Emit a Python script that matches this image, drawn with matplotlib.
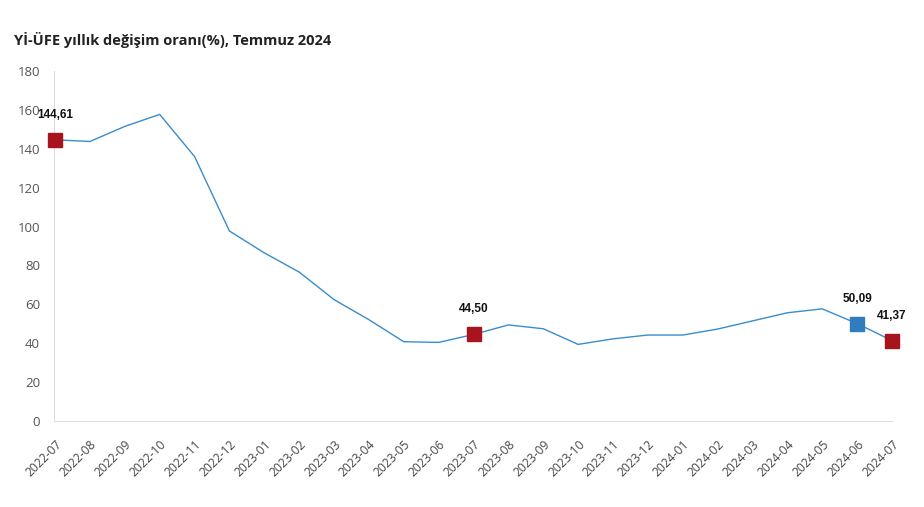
import matplotlib
matplotlib.use("Agg")
import matplotlib.pyplot as plt
import matplotlib.transforms as mtransforms

months = ["2022-07", "2022-08", "2022-09", "2022-10", "2022-11", "2022-12",
          "2023-01", "2023-02", "2023-03", "2023-04", "2023-05", "2023-06",
          "2023-07", "2023-08", "2023-09", "2023-10", "2023-11", "2023-12",
          "2024-01", "2024-02", "2024-03", "2024-04", "2024-05", "2024-06",
          "2024-07"]
values = [144.61, 143.75, 151.50, 157.69, 136.02, 97.72,
          86.46, 76.61, 62.43, 52.11, 40.76, 40.42,
          44.50, 49.41, 47.44, 39.39, 42.25, 44.22,
          44.20, 47.29, 51.47, 55.66, 57.68, 50.09,
          41.37]
red_idx = [0, 12, 24]
blue_idx = [23]
yticks = [0, 20, 40, 60, 80, 100, 120, 140, 160, 180]
title = "Yİ-ÜFE yıllık değişim oranı(%), Temmuz 2024"

line_color = "#3a8ccb"
red = "#a8141e"
blue = "#2f7dbf"

fig = plt.figure(figsize=(9.24, 5.07), dpi=100)
ax = fig.add_axes([54/924, 1-421/507, (892-54)/924, 350/507])
x = list(range(len(months)))
ax.plot(x, values, color=line_color, lw=1.0, zorder=2)

for i in red_idx + blue_idx:
    c = red if i in red_idx else blue
    ax.plot([x[i]], [values[i]], marker="s", ms=10, color=c, mec=c,
            clip_on=False, zorder=3, linestyle="none")
    lab = f"{values[i]:.2f}".replace(".", ",")
    ax.annotate(lab, (x[i], values[i]), xytext=(0, 18), textcoords="offset points",
                ha="center", va="center", fontsize=8.5, fontweight="bold",
                family="Liberation Sans", color="#111111", zorder=4)

ax.set_xlim(-0.03, 24)
ax.set_ylim(0, 180)
ax.set_yticks(yticks)
ax.set_yticklabels([str(v) for v in yticks], family="Open Sans", fontsize=9.5, color="#555555")
ax.set_xticks(x)
ax.set_xticklabels(months, rotation=45, ha="right", rotation_mode="anchor",
                   family="Open Sans", fontsize=8.7, color="#444444")
offset = mtransforms.ScaledTranslation(6/100, 0, fig.dpi_scale_trans)
for lbl in ax.get_xticklabels():
    lbl.set_transform(lbl.get_transform() + offset)
ax.tick_params(axis="y", length=0, pad=10)
ax.tick_params(axis="x", length=0, pad=12)
for s in ["top", "right"]:
    ax.spines[s].set_visible(False)
ax.spines["left"].set_color("#dddddd")
ax.spines["bottom"].set_color("#dddddd")
ax.spines["left"].set_linewidth(0.8)
ax.spines["bottom"].set_linewidth(0.8)

fig.text(14/924, 1-40/507, title, ha="left", va="center", fontsize=10.5,
         fontweight="bold", family="Open Sans", color="#222222")

fig.savefig("out.png", dpi=100)
